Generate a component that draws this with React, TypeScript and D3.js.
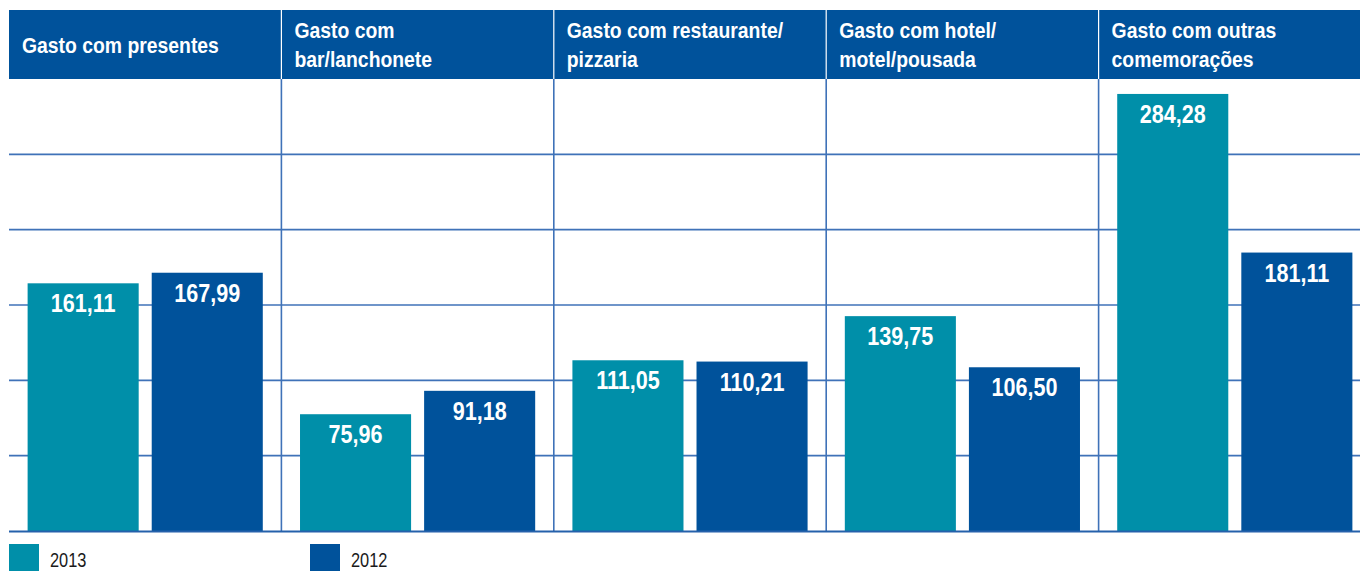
import * as d3 from "d3";

// categories (header labels, split in lines as in the original)
const categories = [
  ["Gasto com presentes"],
  ["Gasto com", "bar/lanchonete"],
  ["Gasto com restaurante/", "pizzaria"],
  ["Gasto com hotel/", "motel/pousada"],
  ["Gasto com outras", "comemorações"],
];
const seriesNames = ["2013", "2012"];
const values2013 = [161.11, 75.96, 111.05, 139.75, 284.28];
const values2012 = [167.99, 91.18, 110.21, 106.5, 181.11];
const colors = ["#008fa9", "#00529b"];

const W = 1360;
const H = 571;
const left = 9;
const right = 1371; // last column runs past the picture's edge
const headerTop = 10;
const headerBottom = 79;
const baseY = 531;
const gridCount = 6;
const yMax = 294;

const font = "'Liberation Sans', Arial, sans-serif";

const fmt = (v: number) => v.toFixed(2).replace(".", ",");

// condensed text helper (horizontal squeeze mimics a condensed face)
const Narrow = (props: {
  x: number;
  y: number;
  size: number;
  squeeze: number;
  bold?: boolean;
  anchor?: "start" | "middle";
  fill: string;
  children: string;
}) => (
  <text
    transform={`translate(${props.x},${props.y}) scale(${props.squeeze},1)`}
    textAnchor={props.anchor || "start"}
    fill={props.fill}
    fontFamily={font}
    fontWeight={props.bold ? "bold" : "normal"}
    fontSize={props.size}
  >
    {props.children}
  </text>
);

export default function App() {
  const x0 = d3
    .scaleBand<number>()
    .domain(d3.range(categories.length))
    .range([left, right])
    .padding(0);
  const x1 = d3
    .scaleBand<number>()
    .domain([0, 1])
    .range([0, x0.bandwidth()])
    .paddingInner(0.105)
    .paddingOuter(0.15);
  const y = d3.scaleLinear().domain([0, yMax]).range([baseY, headerBottom]);

  const series = [values2013, values2012];
  const grid = d3.range(1, gridCount).map((i) => (i * yMax) / gridCount);

  return (
    <svg
      width={W}
      height={H}
      style={{ position: "fixed", top: 0, left: 0, background: "#fff" }}
    >
      {/* gridlines */}
      {grid.map((g) => (
        <line
          key={g}
          x1={left}
          x2={right}
          y1={y(g)}
          y2={y(g)}
          stroke="#3f72b8"
          strokeWidth={1.6}
        />
      ))}
      {/* vertical separators */}
      {categories.slice(1).map((_, i) => {
        const xx = x0(i + 1)!;
        return (
          <line
            key={i}
            x1={xx}
            x2={xx}
            y1={headerBottom}
            y2={baseY}
            stroke="#3f72b8"
            strokeWidth={1.6}
          />
        );
      })}
      {/* header */}
      <rect
        x={left}
        y={headerTop}
        width={right - left}
        height={headerBottom - headerTop}
        fill="#00529b"
      />
      {categories.slice(1).map((_, i) => {
        const xx = x0(i + 1)!;
        return (
          <line
            key={"h" + i}
            x1={xx}
            x2={xx}
            y1={headerTop}
            y2={headerBottom}
            stroke="#ffffff"
            strokeWidth={1.2}
          />
        );
      })}
      {categories.map((lines, i) =>
        lines.map((l, j) => (
          <Narrow
            key={"t" + i + "-" + j}
            x={x0(i)! + 13}
            y={lines.length === 1 ? 53 : 38 + j * 29}
            size={22}
            squeeze={0.88}
            bold
            fill="#fff"
          >
            {l}
          </Narrow>
        ))
      )}
      {/* bars */}
      {categories.map((_, i) =>
        series.map((vals, s) => {
          const bx = x0(i)! + x1(s)!;
          const top = y(vals[i]);
          return (
            <g key={i + "-" + s}>
              <rect
                x={bx}
                y={top}
                width={x1.bandwidth()}
                height={baseY - top}
                fill={colors[s]}
              />
              <Narrow
                x={bx + x1.bandwidth() / 2}
                y={top + 29}
                anchor="middle"
                fill="#fff"
                bold
                size={26}
                squeeze={0.83}
              >
                {fmt(vals[i])}
              </Narrow>
            </g>
          );
        })
      )}
      {/* baseline */}
      <line
        x1={left}
        x2={right}
        y1={baseY + 0.5}
        y2={baseY + 0.5}
        stroke="#2561ab"
        strokeWidth={2}
      />
      {/* legend */}
      {seriesNames.map((n, s) => {
        const lx = s === 0 ? 9 : 310;
        return (
          <g key={n}>
            <rect x={lx} y={544} width={30} height={30} fill={colors[s]} />
            <Narrow x={lx + 41} y={567} size={20} squeeze={0.82} fill="#1a1a1a">
              {n}
            </Narrow>
          </g>
        );
      })}
    </svg>
  );
}
